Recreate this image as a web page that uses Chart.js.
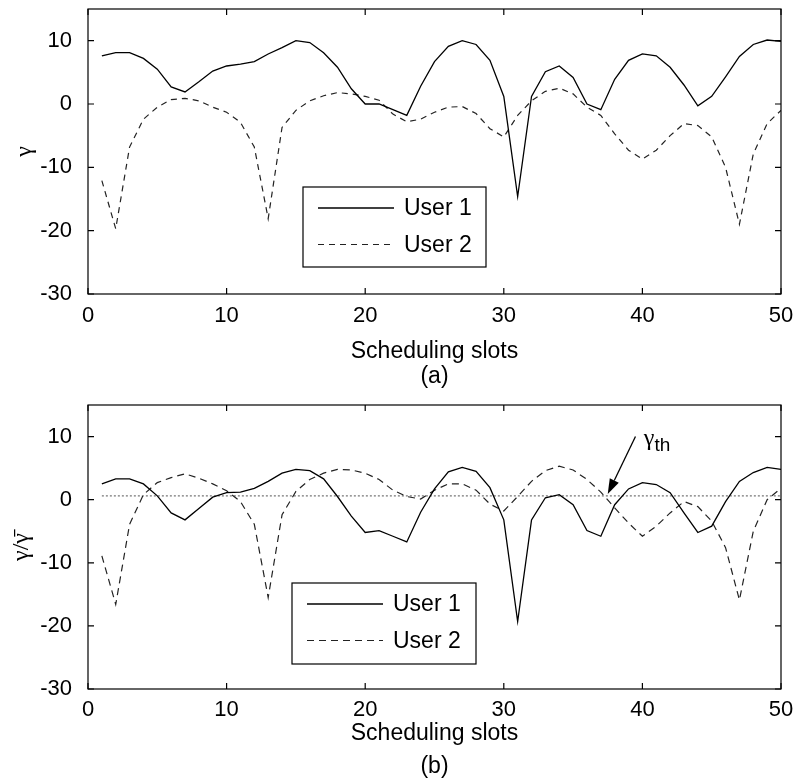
<!DOCTYPE html>
<html>
<head>
<meta charset="utf-8">
<script src="https://cdn.jsdelivr.net/npm/chart.js@4.4.1/dist/chart.umd.min.js"></script>
<style>
  body { margin: 0; background: #fff; }
  canvas { position: absolute; left: 0; }
  #chart-a { top: 0; }
  #chart-b { top: 395px; }
</style>
</head>
<body>
<canvas id="chart-a" width="797" height="395"></canvas>
<canvas id="chart-b" width="797" height="388"></canvas>
<script>
// scheduling slots 1..50
let slots = [];
for (let i = 1; i <= 50; i++) slots.push(i);

// (a) SNR in dB
let snrUser1 = [7.6, 8.1, 8.1, 7.2, 5.5, 2.7, 1.9, 3.5, 5.2, 6.0,
    6.3, 6.7, 7.9, 8.9, 10.0, 9.7, 8.1, 5.8, 2.4, 0,
    0, -0.9, -1.8, 2.8, 6.7, 9.1, 10.0, 9.4, 6.9, 1.2,
    -14.6, 1.2, 5.1, 6.0, 4.2, 0, -0.9, 3.9, 6.9, 7.9,
    7.6, 5.8, 3.0, -0.3, 1.2, 4.3, 7.5, 9.4, 10.1, 9.9];
let snrUser2 = [-12.1, -19.7, -6.8, -2.4, -0.5, 0.7, 0.9, 0.5, -0.5, -1.3,
    -2.9, -6.8, -18.1, -3.7, -1.0, 0.5, 1.3, 1.8, 1.6, 1.2,
    0.6, -1.6, -2.8, -2.4, -1.3, -0.5, -0.4, -1.5, -3.9, -5.2,
    -1.8, 0.5, 2.0, 2.5, 1.6, -0.5, -1.8, -4.7, -7.3, -8.7,
    -7.3, -5.0, -3.1, -3.4, -5.2, -10.0, -19.0, -7.9, -3.1, -1.0];

// (b) normalized SNR
let normUser1 = [2.5, 3.3, 3.3, 2.5, 0.6, -2.1, -3.2, -1.4, 0.4, 1.1,
    1.2, 1.8, 2.9, 4.2, 4.8, 4.6, 3.3, 0.5, -2.6, -5.2,
    -4.9, -5.8, -6.7, -2.0, 1.7, 4.4, 5.1, 4.5, 1.9, -3.2,
    -19.3, -3.2, 0.3, 0.8, -0.8, -4.9, -5.8, -0.8, 1.7, 2.7,
    2.4, 1.1, -2.1, -5.2, -4.2, -0.3, 2.9, 4.3, 5.1, 4.8];
let normUser2 = [-8.9, -16.6, -3.9, 0.8, 2.7, 3.5, 4.1, 3.4, 2.5, 1.4,
    -0.3, -3.9, -15.5, -2.4, 1.3, 3.2, 4.2, 4.8, 4.7, 4.2,
    3.2, 1.5, 0.5, 0.1, 1.5, 2.5, 2.5, 1.5, -0.7, -1.8,
    0.5, 2.9, 4.6, 5.3, 4.7, 3.2, 1.2, -1.3, -3.7, -5.8,
    -4.2, -2.1, -0.3, -1.1, -3.4, -7.6, -15.9, -5.0, 0, 1.8];
let gammaTh = 0.6;

let xTicks = [0, 10, 20, 30, 40, 50];
let yTicks = [-30, -20, -10, 0, 10];
let yMin = -30, yMax = 15;

// arrow pointing at the threshold line (data coords)
let thArrowFrom = { x: 39.5, y: 10 };
let thArrowTo = { x: 37.5, y: 0.9 };
let thLabelAt = { x: 40.1, y: 9.6 };

const FONT = "'Liberation Sans', Arial, Helvetica, sans-serif";

function pts(ys) {
    return slots.map((s, i) => ({ x: s, y: ys[i] }));
}

// box + inward ticks like matlab
const framePlugin = {
    id: 'frame',
    afterDraw(chart) {
        const { ctx, chartArea: a, scales } = chart;
        const x = scales.x, y = scales.y;
        ctx.save();
        ctx.strokeStyle = '#000';
        ctx.lineWidth = 1.2;
        ctx.strokeRect(a.left, a.top, a.right - a.left, a.bottom - a.top);
        ctx.beginPath();
        x.ticks.forEach(t => {
            const px = x.getPixelForValue(t.value);
            ctx.moveTo(px, a.bottom); ctx.lineTo(px, a.bottom - 6);
            ctx.moveTo(px, a.top); ctx.lineTo(px, a.top + 6);
        });
        y.ticks.forEach(t => {
            const py = y.getPixelForValue(t.value);
            ctx.moveTo(a.left, py); ctx.lineTo(a.left + 6, py);
            ctx.moveTo(a.right, py); ctx.lineTo(a.right - 6, py);
        });
        ctx.stroke();
        ctx.restore();
    }
};

// legend box inside the plot
const boxLegendPlugin = {
    id: 'boxLegend',
    afterDraw(chart, args, opts) {
        const ctx = chart.ctx;
        ctx.save();
        ctx.fillStyle = '#fff';
        ctx.fillRect(opts.x, opts.y, opts.w, opts.h);
        ctx.strokeStyle = '#000';
        ctx.lineWidth = 1.2;
        ctx.strokeRect(opts.x, opts.y, opts.w, opts.h);
        let row = 0;
        chart.data.datasets.forEach(ds => {
            if (!ds.inLegend) return;
            const ly = opts.y + 21 + row * 36.5;
            ctx.beginPath();
            ctx.setLineDash(ds.borderDash || []);
            ctx.strokeStyle = ds.borderColor;
            ctx.lineWidth = ds.borderWidth;
            ctx.moveTo(opts.x + 15, ly);
            ctx.lineTo(opts.x + 91, ly);
            ctx.stroke();
            ctx.setLineDash([]);
            ctx.fillStyle = '#000';
            ctx.font = '23px ' + FONT;
            ctx.textBaseline = 'middle';
            ctx.fillText(ds.label, opts.x + 101, ly + 1);
            row++;
        });
        ctx.restore();
    }
};

// gamma_th arrow
const thPlugin = {
    id: 'thArrow',
    afterDraw(chart, args, opts) {
        if (!opts.show) return;
        const { ctx, scales: { x, y } } = chart;
        const x0 = x.getPixelForValue(thArrowFrom.x), y0 = y.getPixelForValue(thArrowFrom.y);
        const x1 = x.getPixelForValue(thArrowTo.x), y1 = y.getPixelForValue(thArrowTo.y);
        const ang = Math.atan2(y1 - y0, x1 - x0);
        const hl = 15, hw = 5;
        ctx.save();
        ctx.strokeStyle = '#000';
        ctx.fillStyle = '#000';
        ctx.lineWidth = 1.3;
        ctx.beginPath();
        ctx.moveTo(x0, y0);
        ctx.lineTo(x1 - Math.cos(ang) * hl, y1 - Math.sin(ang) * hl);
        ctx.stroke();
        ctx.beginPath();
        ctx.moveTo(x1, y1);
        ctx.lineTo(x1 - Math.cos(ang) * hl - Math.sin(ang) * hw, y1 - Math.sin(ang) * hl + Math.cos(ang) * hw);
        ctx.lineTo(x1 - Math.cos(ang) * hl + Math.sin(ang) * hw, y1 - Math.sin(ang) * hl - Math.cos(ang) * hw);
        ctx.closePath();
        ctx.fill();
        const tx = x.getPixelForValue(thLabelAt.x), ty = y.getPixelForValue(thLabelAt.y);
        ctx.textBaseline = 'middle';
        ctx.font = "24px 'Liberation Serif', 'Times New Roman', serif";
        ctx.fillText('γ', tx, ty);
        const gw = ctx.measureText('γ').width;
        ctx.font = '19px ' + FONT;
        ctx.fillText('th', tx + gw, ty + 7);
        ctx.restore();
    }
};

function makeChart(id, cfg) {
    return new Chart(id, {
        type: 'line',
        data: {
            datasets: cfg.datasets
        },
        options: {
            responsive: false,
            animation: false,
            devicePixelRatio: 1,
            layout: { padding: { top: cfg.padTop, right: 16, left: 0, bottom: 0 } },
            elements: { point: { radius: 0 }, line: { tension: 0 } },
            plugins: {
                legend: { display: false },
                tooltip: { enabled: false },
                boxLegend: cfg.legendBox,
                thArrow: { show: cfg.arrow }
            },
            scales: {
                x: {
                    type: 'linear',
                    min: 0,
                    max: 50,
                    grid: { display: false },
                    border: { display: false },
                    afterBuildTicks: s => { s.ticks = xTicks.map(v => ({ value: v })); },
                    afterFit: s => { s.height = cfg.xHeight; s.paddingLeft = 0; s.paddingRight = 0; },
                    ticks: { padding: cfg.xTickPad, color: '#000', font: { family: FONT, size: 22 } },
                    title: {
                        display: true,
                        text: ['Scheduling slots', cfg.caption],
                        color: '#000',
                        font: { family: FONT, size: 23, lineHeight: cfg.capLine },
                        padding: { top: 0, bottom: cfg.capPad }
                    }
                },
                y: {
                    min: yMin,
                    max: yMax,
                    grid: { display: false },
                    border: { display: false },
                    afterBuildTicks: s => { s.ticks = yTicks.map(v => ({ value: v })); },
                    afterFit: s => { s.width = 88; s.paddingTop = 0; s.paddingBottom = 0; },
                    ticks: { padding: 8, color: '#000', font: { family: FONT, size: 22 } },
                    title: {
                        display: true,
                        text: cfg.yLabel,
                        color: '#000',
                        font: { family: "'Liberation Serif', 'Times New Roman', serif", size: 24 },
                        padding: { top: cfg.yTitlePad, bottom: 0 }
                    }
                }
            }
        },
        plugins: [framePlugin, boxLegendPlugin, thPlugin]
    });
}

makeChart('chart-a', {
    padTop: 9,
    xHeight: 101,
    xTickPad: 1,
    caption: '(a)',
    capLine: 1.09,
    capPad: 6,
    yLabel: 'γ',
    yTitlePad: 10,
    arrow: false,
    legendBox: { x: 303, y: 187, w: 183, h: 80 },
    datasets: [
        { label: 'User 1', inLegend: true, data: pts(snrUser1), borderColor: '#000', borderWidth: 1.3, fill: false },
        { label: 'User 2', inLegend: true, data: pts(snrUser2), borderColor: '#222', borderWidth: 1.2, borderDash: [6, 5], fill: false }
    ]
});

makeChart('chart-b', {
    padTop: 10,
    xHeight: 94,
    xTickPad: 0,
    caption: '(b)',
    capLine: 1.43,
    capPad: 0,
    yLabel: 'γ/γ\u0304',
    yTitlePad: 7,
    arrow: true,
    legendBox: { x: 292, y: 188, w: 184, h: 81 },
    datasets: [
        { label: 'User 1', inLegend: true, data: pts(normUser1), borderColor: '#000', borderWidth: 1.3, fill: false },
        { label: 'User 2', inLegend: true, data: pts(normUser2), borderColor: '#222', borderWidth: 1.2, borderDash: [7, 5], fill: false },
        { label: 'γth', inLegend: false, data: slots.map(s => ({ x: s, y: gammaTh })), borderColor: '#777', borderWidth: 1.2, borderDash: [2, 2], fill: false }
    ]
});
</script>
</body>
</html>
